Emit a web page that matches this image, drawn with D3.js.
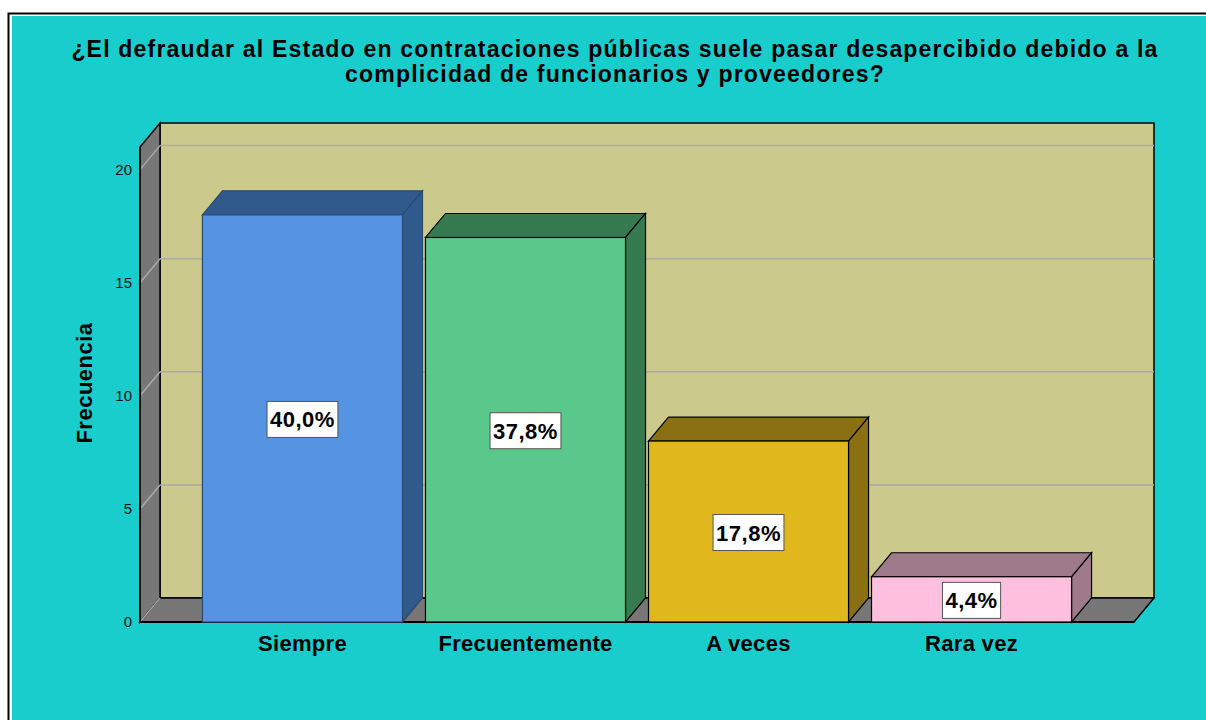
<!DOCTYPE html>
<html>
<head>
<meta charset="utf-8">
<script src="https://cdn.jsdelivr.net/npm/d3@7"></script>
<style>
  body { margin: 0; background: #fff; }
  text { font-family: "Liberation Sans", Arial, sans-serif; }
</style>
</head>
<body>
<script>
// DATA
var categories = ["Siempre", "Frecuentemente", "A veces", "Rara vez"];
var counts = [18, 17, 8, 2];
var percentLabels = ["40,0%", "37,8%", "17,8%", "4,4%"];
var yTicks = [0, 5, 10, 15, 20];
var frontColors = ["#5593e3", "#5ac88a", "#e0b81e", "#ffc0e0"];
var darkColors = ["#315a8c", "#367a50", "#8a7012", "#9e7a8b"];
var titleLines = [
  "¿El defraudar al Estado en contrataciones públicas suele pasar desapercibido debido a la",
  "complicidad de funcionarios y proveedores?"
];

var W = 1206, H = 720;
var dx = 20, dy = -24; // depth offset of the 3D box

var svg = d3.select("body").append("svg")
  .attr("width", W)
  .attr("height", H);

// frame + background
svg.append("rect").attr("x", 8.5).attr("y", 13.5).attr("width", 1220).attr("height", 720)
  .attr("fill", "#fff").attr("stroke", "#000").attr("stroke-width", 2);
svg.append("rect").attr("x", 12).attr("y", 16).attr("width", 1200).attr("height", 710)
  .attr("fill", "#1acdcd");

// title
svg.append("g").selectAll("text")
  .data(titleLines)
  .enter().append("text")
  .attr("x", 615)
  .attr("y", function (d, i) { return 57 + i * 25; })
  .attr("text-anchor", "middle")
  .style("font-weight", "bold")
  .style("font-size", "23px")
  .style("letter-spacing", "1.2px")
  .text(function (d) { return d; });

// scales
var x = d3.scaleBand()
  .domain(categories)
  .range([140, 1134])
  .paddingInner(0.103)
  .paddingOuter(0.28);

var y = d3.scaleLinear()
  .domain([0, 21])
  .range([622, 147]);

var x0 = 140, x1 = 1134, yb = y(0), yt = y(21);

// back wall
svg.append("rect")
  .attr("x", x0 + dx).attr("y", yt + dy)
  .attr("width", x1 - x0).attr("height", yb - yt)
  .attr("fill", "#ccc98c").attr("stroke", "#000").attr("stroke-width", 1.5);

// side wall
svg.append("path")
  .attr("d", "M" + x0 + "," + yb + "L" + x0 + "," + yt + "L" + (x0 + dx) + "," + (yt + dy) +
    "L" + (x0 + dx) + "," + (yb + dy) + "Z")
  .attr("fill", "#777").attr("stroke", "#000").attr("stroke-width", 1.5);

// floor
svg.append("path")
  .attr("d", "M" + x0 + "," + yb + "L" + (x0 + dx) + "," + (yb + dy) + "L" + (x1 + dx) + "," + (yb + dy) +
    "L" + x1 + "," + yb + "Z")
  .attr("fill", "#777").attr("stroke", "#000").attr("stroke-width", 1.5);

// grid lines
var grid = svg.append("g");
yTicks.forEach(function (t) {
  if (t > 0) {
    grid.append("line")
      .attr("x1", x0 + dx).attr("x2", x1 + dx)
      .attr("y1", y(t) + dy).attr("y2", y(t) + dy)
      .attr("stroke", "#aaa").attr("stroke-width", 1.5);
  }
  grid.append("line")
    .attr("x1", x0).attr("x2", x0 + dx)
    .attr("y1", y(t)).attr("y2", y(t) + dy)
    .attr("stroke", "#aaa").attr("stroke-width", 1.5);
});

// front axis line
svg.append("line").attr("x1", x0).attr("x2", x1).attr("y1", yb).attr("y2", yb)
  .attr("stroke", "#000").attr("stroke-width", 2);
svg.append("line").attr("x1", x0).attr("x2", x0).attr("y1", yb).attr("y2", yt)
  .attr("stroke", "#000").attr("stroke-width", 2);

// y tick labels
svg.append("g").selectAll("text")
  .data(yTicks)
  .enter().append("text")
  .attr("x", 132)
  .attr("y", function (d) { return y(d) + 5; })
  .attr("text-anchor", "end")
  .style("font-size", "15px")
  .attr("fill", "#111")
  .text(function (d) { return d; });

// y axis title
svg.append("text")
  .attr("transform", "translate(92," + 383 + ") rotate(-90)")
  .attr("text-anchor", "middle")
  .style("font-weight", "bold")
  .style("font-size", "22px")
  .style("letter-spacing", "0.5px")
  .text("Frecuencia");

// bars
var bars = svg.append("g").selectAll("g")
  .data(categories)
  .enter().append("g");

bars.each(function (c, i) {
  var g = d3.select(this);
  var bx = x(c), bw = x.bandwidth(), top = y(counts[i]);
  var stroke = i === 0 ? "#2a4a70" : "#000";
  // top face
  g.append("path")
    .attr("d", "M" + bx + "," + top + "L" + (bx + dx) + "," + (top + dy) + "L" + (bx + bw + dx) + "," + (top + dy) +
      "L" + (bx + bw) + "," + top + "Z")
    .attr("fill", darkColors[i]).attr("stroke", stroke).attr("stroke-width", 1.2);
  // side face
  g.append("path")
    .attr("d", "M" + (bx + bw) + "," + top + "L" + (bx + bw + dx) + "," + (top + dy) + "L" + (bx + bw + dx) + "," + (yb + dy) +
      "L" + (bx + bw) + "," + yb + "Z")
    .attr("fill", darkColors[i]).attr("stroke", stroke).attr("stroke-width", 1.2);
  // front face
  g.append("rect")
    .attr("x", bx).attr("y", top).attr("width", bw).attr("height", yb - top)
    .attr("fill", frontColors[i]).attr("stroke", stroke).attr("stroke-width", 1.2);

  // percent label
  var cy = (top + yb) / 2 + 1;
  var lab = g.append("text")
    .attr("x", bx + bw / 2).attr("y", cy + 8)
    .attr("text-anchor", "middle")
    .style("font-weight", "bold")
    .style("font-size", "22px")
    .style("letter-spacing", "0.5px")
    .text(percentLabels[i]);
  var bb = lab.node().getBBox();
  g.insert("rect", "text")
    .attr("x", bb.x - 3).attr("y", cy - 18)
    .attr("width", bb.width + 6).attr("height", 36)
    .attr("fill", "#fff").attr("stroke", "#555").attr("stroke-width", 1);
});

// category labels
svg.append("g").selectAll("text")
  .data(categories)
  .enter().append("text")
  .attr("x", function (d) { return x(d) + x.bandwidth() / 2; })
  .attr("y", 651)
  .attr("text-anchor", "middle")
  .style("font-weight", "bold")
  .style("font-size", "22px")
  .style("letter-spacing", "0.3px")
  .text(function (d) { return d; });
</script>
</body>
</html>
